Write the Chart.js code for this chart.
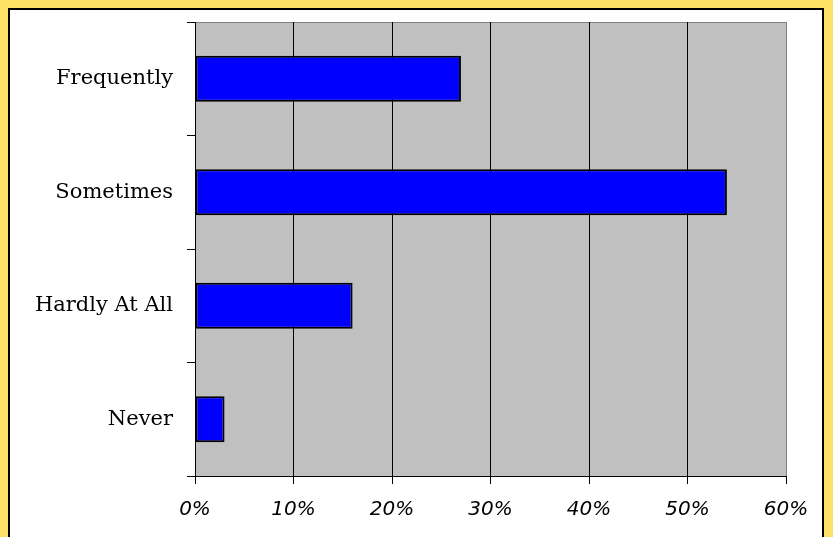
<!DOCTYPE html>
<html lang="en">
<head>
  <meta charset="UTF-8" />
  <title>How often</title>
  <script src="https://cdn.jsdelivr.net/npm/chart.js"></script>
  <style>
    body { margin: 0; background: #FFE066; width: 833px; height: 537px; overflow: hidden; }
    .frame { position: absolute; left: 8px; top: 8px; width: 812px; height: 540px; border: 2px solid #000; background: #fff; }
    canvas { display: block; }
  </style>
</head>
<body>
  <div class="frame">
    <canvas id="grafico" width="812" height="527"></canvas>
  </div>
<script>
// categorias e valores (%)
const categorias = ['Frequently', 'Sometimes', 'Hardly At All', 'Never'];
const valores = [27, 54, 16, 3];
const ticksX = [0, 10, 20, 30, 40, 50, 60];

// fundo cinza da area do grafico
const fundoPlot = {
  id: 'fundoPlot',
  beforeDraw(chart) {
    const a = chart.chartArea;
    const ctx = chart.ctx;
    ctx.save();
    ctx.fillStyle = '#C0C0C0';
    ctx.fillRect(a.left, a.top, a.right - a.left, a.bottom - a.top);
    ctx.strokeStyle = '#808080';
    ctx.lineWidth = 1;
    ctx.beginPath();
    ctx.moveTo(a.left, a.top + 0.5);
    ctx.lineTo(a.right + 0.5, a.top + 0.5);
    ctx.lineTo(a.right + 0.5, a.bottom);
    ctx.stroke();
    ctx.restore();
  }
};

new Chart(document.getElementById('grafico'), {
  type: 'bar',
  data: {
    labels: categorias,
    datasets: [{
      data: valores,
      backgroundColor: '#0000FF',
      borderColor: '#000000',
      borderWidth: 2,
      borderSkipped: false,
      categoryPercentage: 1,
      barPercentage: 0.405
    }]
  },
  options: {
    indexAxis: 'y',
    responsive: false,
    animation: false,
    layout: { padding: { top: 12, right: 36, left: 0, bottom: 0 } },
    plugins: { legend: { display: false }, tooltip: { enabled: false } },
    scales: {
      x: {
        min: 0,
        max: 60,
        afterBuildTicks(axis) { axis.ticks = ticksX.map(v => ({ value: v })); },
        afterFit(axis) { axis.height = 61; axis.paddingLeft = 0; axis.paddingRight = 0; },
        border: { display: true, color: '#000', width: 1 },
        grid: {
          color: ctx => ctx.index === ticksX.length - 1 ? '#808080' : '#000',
          tickColor: '#000',
          tickLength: 8,
          lineWidth: 1
        },
        ticks: {
          color: '#000',
          padding: 14,
          maxRotation: 0,
          font: { family: 'DejaVu Sans', size: 20, style: 'italic' },
          callback: v => v + '%'
        }
      },
      y: {
        afterFit(axis) { axis.width = 185; axis.paddingTop = 0; axis.paddingBottom = 0; },
        border: { display: true, color: '#000', width: 1 },
        grid: {
          drawOnChartArea: false,
          color: '#000',
          tickLength: 8
        },
        ticks: {
          color: '#000',
          padding: 14,
          font: { family: 'DejaVu Serif', size: 21 }
        }
      }
    }
  },
  plugins: [fundoPlot]
});
</script>
</body>
</html>
